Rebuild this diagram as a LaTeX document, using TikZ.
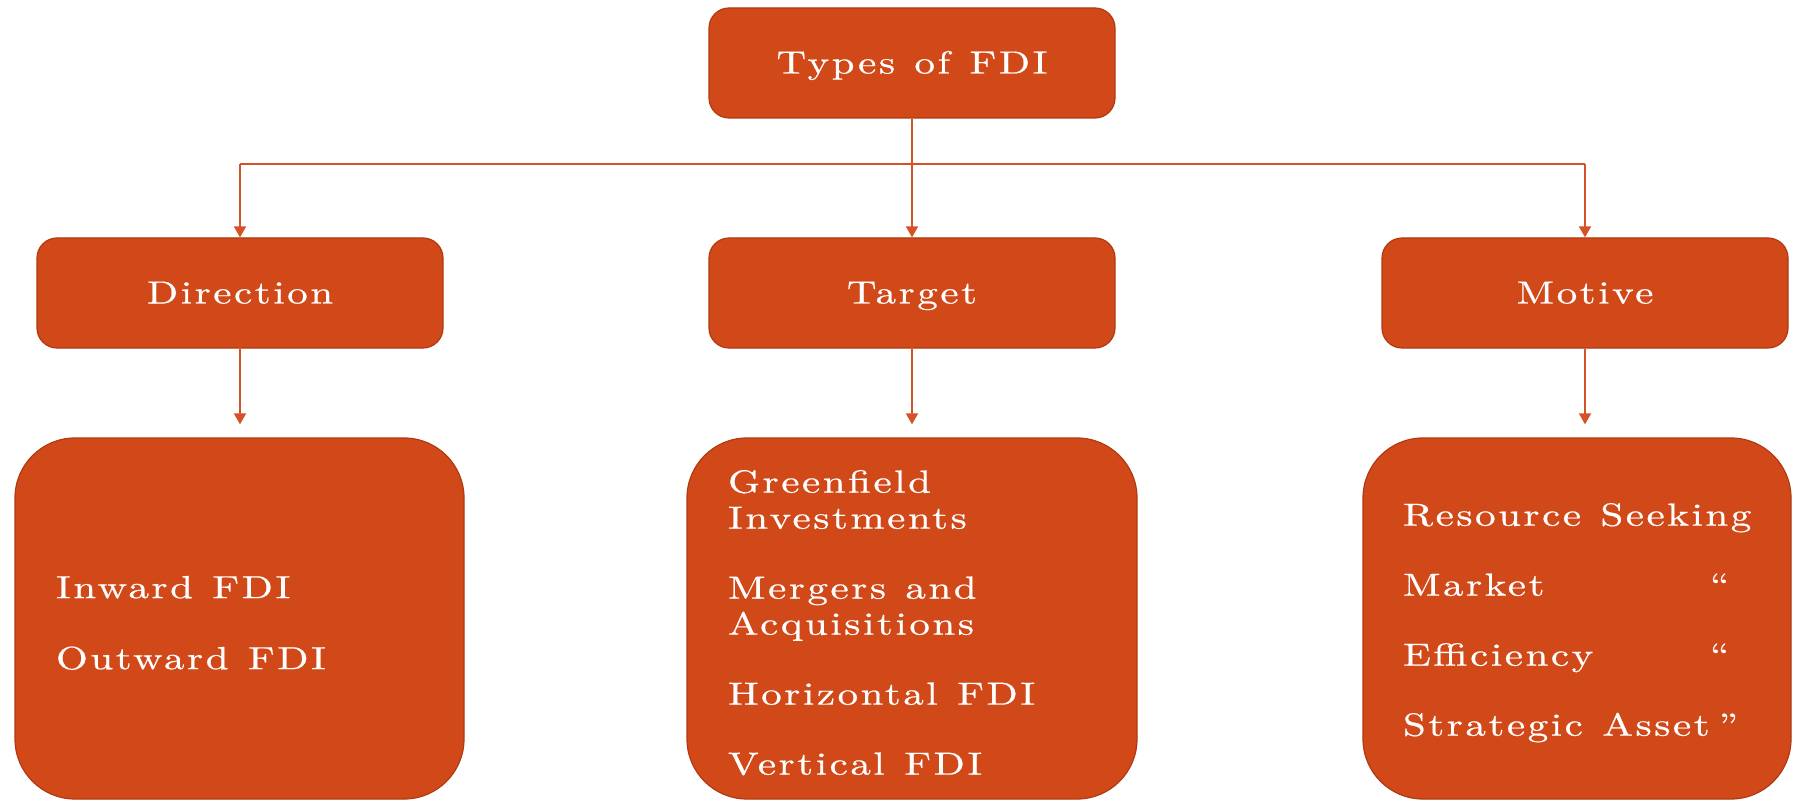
\documentclass[tikz,border=0pt]{standalone}
\usepackage{fontspec}
\newfontfamily\fdifont{lmroman10-regular.otf}[LetterSpace=8,FakeStretch=1.28,FakeBold=0.6,WordSpace=1.2]
\usetikzlibrary{arrows.meta}
\definecolor{boxfill}{RGB}{209,73,25}
\definecolor{boxline}{RGB}{178,58,18}
\definecolor{connc}{RGB}{212,82,40}
\newcommand{\liststart}{\spaceskip=0pt\xspaceskip=0pt\rule{0pt}{31pt}}
\tikzset{
  basebox/.style={draw=boxline, line width=1.2pt, fill=boxfill, text=white,
    inner sep=0pt, font=\fdifont\fontsize{32}{36}\selectfont},
  fdibox/.style={basebox, rounded corners=20pt, minimum width=406pt, minimum height=110pt,
    text height=28pt, text depth=7pt},
  listbox/.style={basebox, rounded corners=60pt, minimum height=361pt, inner xsep=41pt, align=left},
  link/.style={draw=connc, line width=1.8pt, -{Triangle[width=12pt,length=11pt]}},
  hline/.style={draw=connc, line width=1.5pt}
}
\begin{document}
\begin{tikzpicture}[x=1pt,y=-1pt]
\fill[white] (0,0) rectangle (1793,802);
\useasboundingbox (0,0) rectangle (1793,802);
\node[fdibox] (types) at (912,63) {Types of FDI};
\node[fdibox] (direction) at (240,293) {Direction};
\node[fdibox] (target) at (912,293) {Target};
\node[fdibox] (motive) at (1585,293) {Motive};
\node[listbox, text width=367pt] (dirlist) at (239.5,618.5) {\liststart Inward FDI\\[35pt]Outward FDI};
\node[listbox, text width=368pt] (targetlist) at (912,618.5) {\liststart Greenfield\\Investments\\[34pt]Mergers and\\Acquisitions\\[34pt]Horizontal FDI\\[34pt]Vertical FDI};
\node[listbox, text width=348pt, inner xsep=40pt] (motivelist) at (1577,618.5) {\liststart\mbox{Resource Seeking}\\[34pt]\makebox[307pt][l]{Market}\textquotedblleft\\[34pt]\makebox[307pt][l]{Efficiency}\textquotedblleft\\[34pt]Strategic Asset\hspace{9pt}\textquotedblright};
\coordinate (split) at (912,164);
\coordinate (dirend) at ([yshift=13pt]dirlist.north);
\coordinate (tarend) at ([yshift=13pt]targetlist.north);
\coordinate (motend) at ([yshift=13pt]motivelist.north);
\draw[link] (types.south) -- (target.north);
\draw[hline] (split -| direction.north) -- (split -| motive.north);
\draw[link] (split -| direction.north) -- (direction.north);
\draw[link] (split -| motive.north) -- (motive.north);
\draw[link] (direction.south) -- (direction.south |- dirend);
\draw[link] (target.south) -- (target.south |- tarend);
\draw[link] (motive.south) -- (motive.south |- motend);
\end{tikzpicture}
\end{document}
